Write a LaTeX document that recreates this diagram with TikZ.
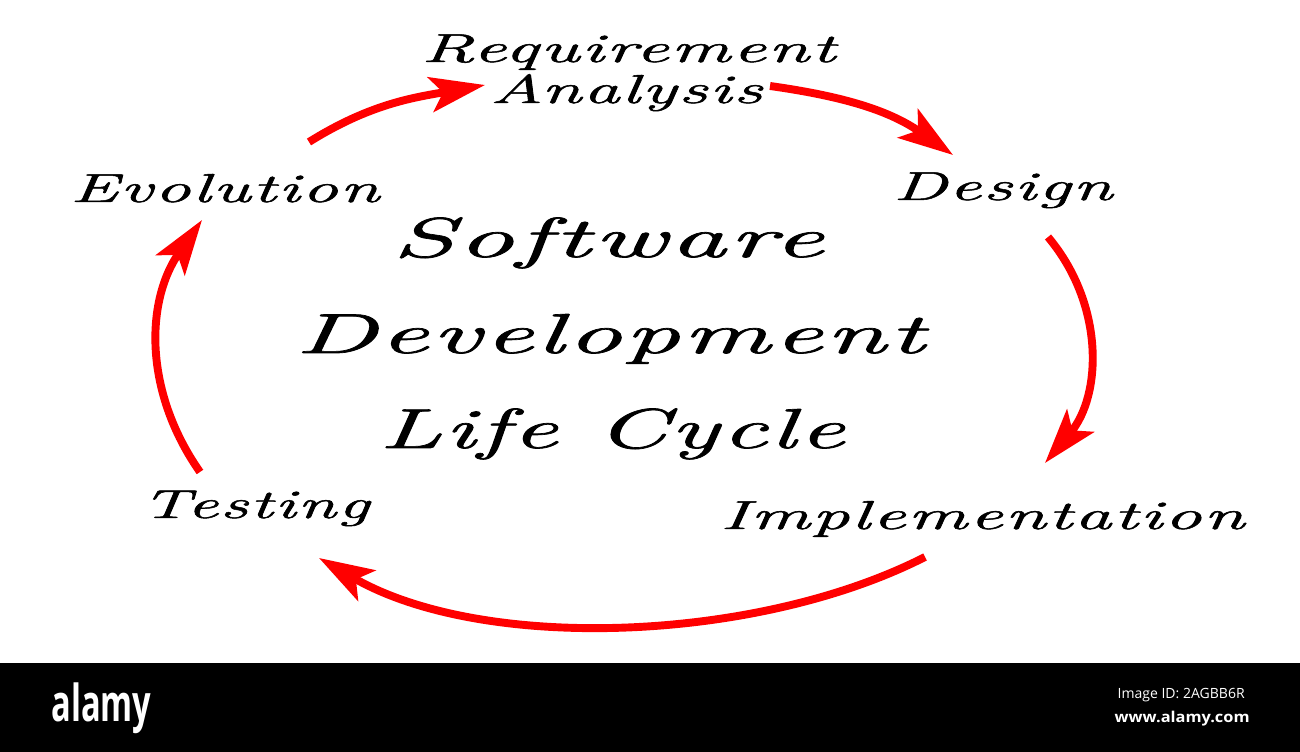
\documentclass[tikz,border=0pt]{standalone}
\usepackage{fontspec}
\usetikzlibrary{arrows.meta}
\newfontfamily\handfont[LetterSpace=3, FakeBold=1.2]{Latin Modern Roman}
\newfontfamily\stampfont{Open Sans}
\newcommand{\hand}[2]{\resizebox{#1}{\height}{#2}}

\begin{document}
\begin{tikzpicture}[
        phase/.style={anchor=base west, inner sep=0pt, font=\handfont\itshape\fontsize{23}{28}\selectfont},
        title/.style={anchor=base west, inner sep=0pt, font=\handfont\itshape\fontsize{32}{38}\selectfont},
        cycle/.style={draw=red, line width=4.5pt, -{Stealth[length=1.1cm, width=0.7cm, inset=0.25cm]}},
        stamp/.style={inner sep=0pt, text=white, font=\stampfont}
    ]
        \useasboundingbox (0,0) rectangle (26,15.04);
        \fill[white] (0,1.78) rectangle (26,15.04);
        \fill[black] (0,0) rectangle (26,1.78);
        % labels
        \node[phase] (req) at (8.42,13.8) {\hand{8.28cm}{Requirement}};
        \node[phase] (ana) at (9.8,12.98) {\hand{5.44cm}{Analysis}};
        \node[phase] (des) at (17.86,11.04) {\hand{4.38cm}{Design}};
        \node[phase] (imp) at (14.4,4.46) {\hand{10.48cm}{Implementation}};
        \node[phase] (tes) at (2.82,4.68) {\hand{4.56cm}{Testing}};
        \node[phase] (evo) at (1.4,11.0) {\hand{6.18cm}{Evolution}};
        \node[title] (sw) at (7.84,9.9) {\hand{8.62cm}{Software}};
        \node[title] (dev) at (5.9,7.98) {\hand{12.58cm}{Development}};
        \node[title] (lc) at (7.58,6.08) {\hand{9.3cm}{Life Cycle}};
        % arrow ends
        \coordinate (evo-out) at (6.18,12.2);
        \coordinate (req-in) at (9.7,13.34);
        \coordinate (ana-out) at (15.4,13.32);
        \coordinate (des-in) at (19.06,11.94);
        \coordinate (des-out) at (20.96,10.3);
        \coordinate (imp-in) at (20.9,5.78);
        \coordinate (imp-out) at (18.5,3.9);
        \coordinate (tes-in) at (6.38,3.88);
        \coordinate (tes-out) at (4.0,5.6);
        \coordinate (evo-in) at (4.04,10.64);
        \draw[cycle] (evo-out) to[out=32, in=190] (req-in);
        \draw[cycle] (ana-out) to[out=-8, in=145] (des-in);
        \draw[cycle] (des-out) to[out=-50, in=50] (imp-in);
        \draw[cycle] (imp-out) to[out=207, in=-30, looseness=0.8] (tes-in);
        \draw[cycle] (tes-out) to[out=125, in=235] (evo-in);
        % bottom band
        \node[stamp, anchor=base west, font=\stampfont\bfseries\fontsize{29}{34}\selectfont] (logo) at (1.02,0.6) {\hand{2.0cm}{alamy}};
        \node[stamp, anchor=base east, font=\stampfont\fontsize{8}{10}\selectfont] (imgid) at (24.9,1.06) {\hand{2.54cm}{Image ID: 2AGBB6R}};
        \node[stamp, anchor=base east, font=\stampfont\bfseries\fontsize{8.5}{10}\selectfont] (site) at (25.0,0.58) {\hand{2.7cm}{www.alamy.com}};
\end{tikzpicture}
\end{document}
